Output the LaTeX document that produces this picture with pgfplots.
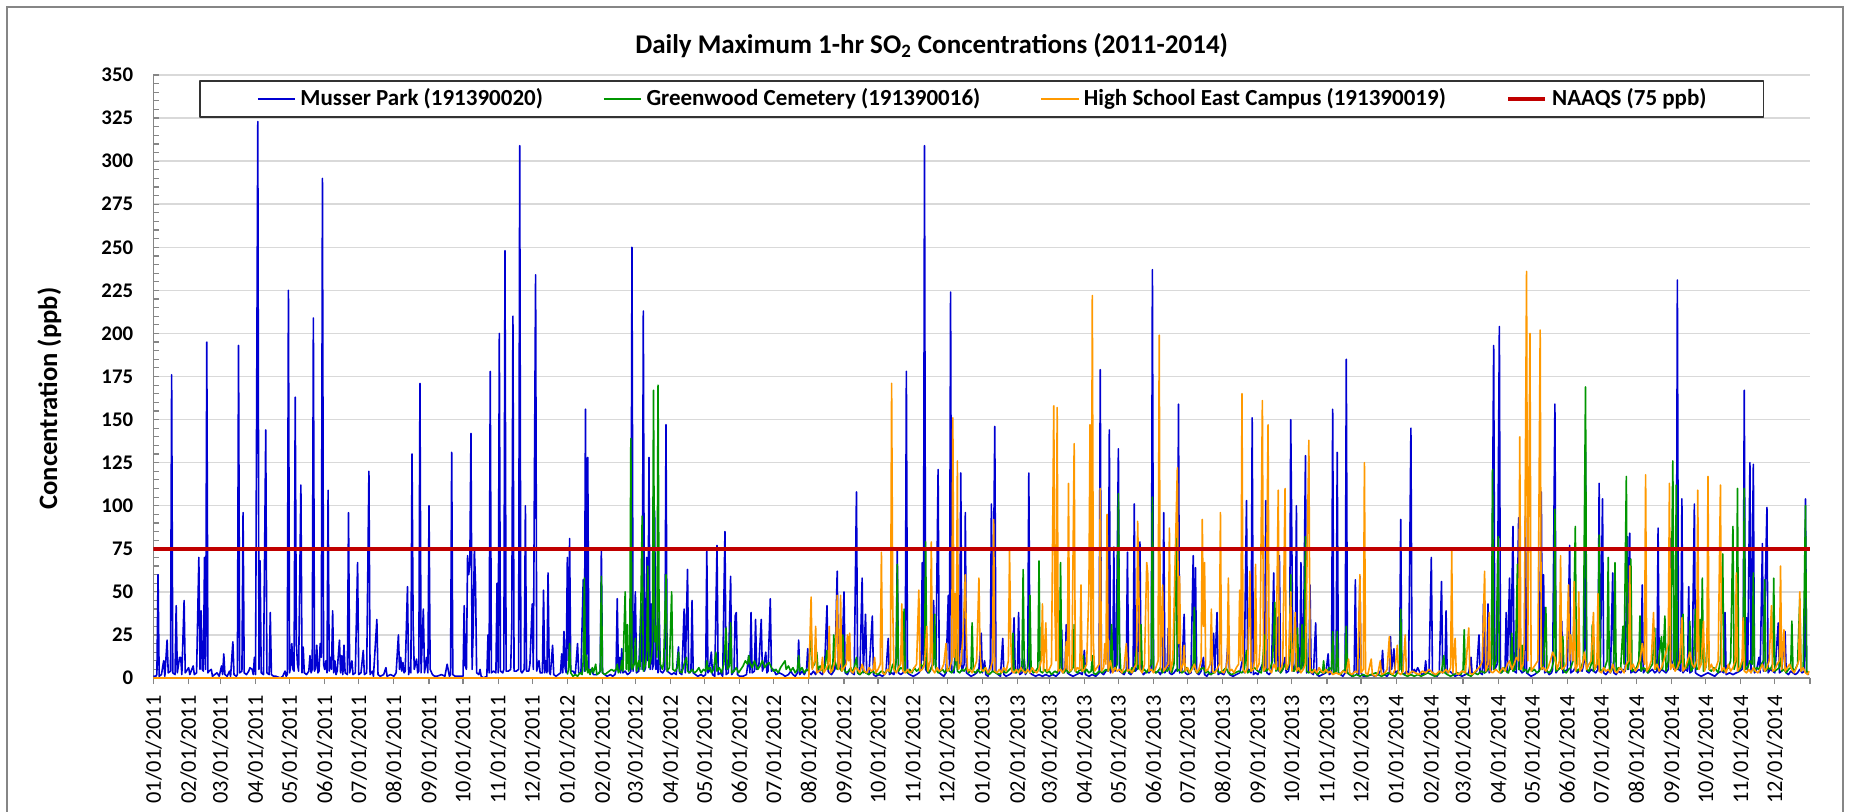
\documentclass[border=0pt]{standalone}
\usepackage{fontspec}
\setmainfont{Carlito}
\usepackage{pgfplots}
\pgfplotsset{compat=1.18}
\definecolor{mblue}{RGB}{0,0,210}
\definecolor{mgreen}{RGB}{0,150,0}
\definecolor{morange}{RGB}{255,153,0}
\definecolor{mred}{RGB}{192,0,0}
\definecolor{gridgray}{RGB}{217,217,217}
\definecolor{axgray}{RGB}{134,134,134}
\begin{document}
\begin{tikzpicture}
\path[use as bounding box] (0,0) rectangle (925.5pt,405.5pt);
\draw[axgray, line width=1pt] (3.35pt,-10pt) rectangle (921.5pt,402.15pt);
\node[font=\bfseries\fontsize{13.5}{16}\selectfont, anchor=base, inner sep=0pt] at (465.85pt,378.85pt) {Daily Maximum 1-hr SO\textsubscript{2} Concentrations (2011-2014)};
\begin{axis}[
  at={(76.75pt,66.5pt)}, anchor=south west,
  scale only axis, width=828.25pt, height=301.5pt,
  xmin=0, xmax=1461, ymin=0, ymax=350,
  axis lines*=left,
  axis line style={axgray, line width=0.75pt, -},
  tick align=inside,
  major tick length=3pt, minor tick length=3pt,
  tick style={axgray, line width=0.6pt},
  xtick style={yshift=-3pt},
  ytick={0,25,...,350}, minor y tick num=4,
  ymajorgrids, major grid style={gridgray, line width=0.75pt},
  /pgf/number format/assume math mode=true,
  yticklabel style={font=\bfseries\fontsize{10.4}{12}\selectfont, inner sep=0pt, xshift=-10pt},
  xtick={0,31,59,90,120,151,181,212,243,273,304,334,365,396,425,456,486,517,547,578,609,639,670,700,731,762,790,821,851,882,912,943,974,1004,1035,1065,1096,1127,1155,1186,1216,1247,1277,1308,1339,1369,1400,1430,1461},
  xticklabels={01/01/2011,02/01/2011,03/01/2011,04/01/2011,05/01/2011,06/01/2011,07/01/2011,08/01/2011,09/01/2011,10/01/2011,11/01/2011,12/01/2011,01/01/2012,02/01/2012,03/01/2012,04/01/2012,05/01/2012,06/01/2012,07/01/2012,08/01/2012,09/01/2012,10/01/2012,11/01/2012,12/01/2012,01/01/2013,02/01/2013,03/01/2013,04/01/2013,05/01/2013,06/01/2013,07/01/2013,08/01/2013,09/01/2013,10/01/2013,11/01/2013,12/01/2013,01/01/2014,02/01/2014,03/01/2014,04/01/2014,05/01/2014,06/01/2014,07/01/2014,08/01/2014,09/01/2014,10/01/2014,11/01/2014,12/01/2014,{}},
  xticklabel style={font=\fontsize{11.2}{13}\selectfont, inner sep=0pt, yshift=-8.5pt, rotate=90, anchor=east},
  ylabel={Concentration (ppb)},
  every axis y label/.style={at={(rel axis cs:-0.0628,0.4635)}, rotate=90, anchor=center, font=\bfseries\fontsize{13.3}{16}\selectfont},
  legend style={at={(0.5,1)}, anchor=north, yshift=-2.5pt, draw=black!80, line width=0.9pt, fill=white,
    font=\bfseries\fontsize{11.5}{13}\selectfont, legend columns=4, inner xsep=28.5pt, inner ysep=4pt,
    nodes={inner xsep=0pt, inner ysep=0pt},
    /tikz/every odd column/.append style={column sep=2.25pt},
    /tikz/every even column/.append style={column sep=30pt}},
  legend cell align=left,
  legend image code/.code={\draw[#1] (0pt,0pt) -- (18.7pt,0pt);},
  line join=round,
]
\addplot[mblue, line width=0.8pt] coordinates {(0,1)(2,1)(3,2)(4,60)(5,1)(7,2)(9,10)(10,1)(12,22)(13,3)(15,4)(16,176)(17,3)(19,2)(20,42)(21,3)(23,12)(24,12)(25,2)(27,45)(28,3)(29,4)(31,6)(32,2)(35,7)(36,2)(38,3)(40,70)(41,5)(42,39)(43,5)(44,4)(45,70)(46,5)(47,195)(48,3)(49,4)(51,5)(52,1)(54,2)(56,3)(58,1)(60,7)(61,2)(62,14)(63,2)(65,1)(67,4)(68,1)(70,21)(71,2)(73,1)(74,2)(75,193)(76,3)(78,4)(79,96)(80,3)(82,2)(84,4)(85,6)(87,5)(88,2)(89,12)(90,2)(92,323)(93,5)(94,68)(95,3)(97,2)(99,144)(100,3)(102,2)(103,38)(104,2)(106,1)(108,1)(112,0)(114,1)(116,4)(117,1)(118,2)(119,225)(120,3)(121,7)(122,20)(123,5)(124,4)(125,163)(126,20)(127,8)(128,4)(130,112)(131,3)(132,18)(133,3)(135,2)(137,4)(138,13)(139,3)(140,5)(141,209)(142,4)(143,6)(144,19)(145,3)(146,4)(147,20)(148,12)(149,290)(150,8)(151,5)(152,10)(153,3)(154,109)(155,4)(156,12)(157,5)(158,39)(159,3)(160,10)(161,2)(162,4)(164,22)(165,3)(166,13)(167,2)(168,19)(169,3)(171,2)(172,96)(173,3)(175,10)(176,2)(178,3)(180,67)(181,2)(183,3)(185,16)(186,2)(188,3)(190,120)(191,2)(193,4)(194,1)(197,34)(198,2)(200,1)(203,2)(205,6)(206,1)(209,2)(212,1)(214,3)(216,25)(217,5)(218,12)(219,4)(220,9)(221,3)(222,4)(224,53)(225,2)(226,6)(227,3)(228,130)(229,31)(230,5)(232,11)(233,3)(234,4)(235,171)(236,3)(238,40)(239,3)(241,12)(242,3)(243,100)(244,5)(246,2)(248,1)(250,1)(254,2)(257,1)(259,8)(261,1)(262,2)(263,131)(264,2)(266,1)(270,1)(273,1)(274,42)(275,7)(276,5)(277,71)(278,60)(279,66)(280,142)(281,5)(282,29)(283,75)(284,55)(285,3)(287,2)(288,5)(289,1)(291,0)(294,1)(295,25)(296,3)(297,178)(298,3)(300,4)(302,3)(303,55)(304,3)(305,200)(306,4)(308,3)(309,5)(310,248)(311,4)(313,4)(315,5)(316,30)(317,210)(318,4)(320,4)(322,5)(323,309)(324,4)(325,3)(327,5)(328,100)(329,4)(331,4)(332,8)(334,43)(335,5)(337,234)(338,4)(340,10)(341,3)(343,3)(344,51)(345,3)(346,10)(347,3)(348,61)(349,4)(350,2)(352,19)(353,2)(355,1)(357,2)(359,3)(360,14)(361,3)(362,27)(363,6)(364,3)(365,70)(366,10)(367,81)(368,4)(370,4)(372,2)(374,20)(375,3)(377,3)(379,57)(380,4)(381,156)(382,5)(383,128)(384,4)(386,5)(388,2)(391,2)(393,3)(394,4)(395,75)(396,3)(398,2)(400,1)(403,2)(405,1)(407,2)(408,5)(409,46)(410,4)(411,12)(412,3)(413,17)(414,3)(416,4)(418,2)(420,3)(421,4)(422,250)(423,4)(425,50)(426,3)(428,4)(430,43)(431,5)(432,213)(433,4)(434,6)(435,70)(436,10)(437,128)(438,5)(439,43)(440,5)(441,8)(442,97)(443,5)(444,10)(445,3)(446,39)(447,4)(449,3)(451,5)(452,147)(453,4)(455,3)(457,2)(459,3)(461,2)(463,18)(464,3)(466,2)(468,40)(469,3)(471,63)(472,3)(474,4)(475,45)(476,3)(478,2)(480,1)(483,2)(485,1)(487,2)(488,74)(489,3)(490,4)(492,15)(493,2)(495,1)(497,77)(498,2)(500,3)(502,1)(504,85)(505,2)(507,3)(509,59)(510,2)(512,4)(513,36)(514,38)(515,2)(517,1)(520,1)(523,2)(525,13)(526,3)(527,38)(528,3)(530,4)(531,34)(532,5)(534,8)(536,34)(537,4)(538,6)(540,15)(541,3)(542,4)(544,46)(545,4)(547,5)(549,2)(552,3)(555,2)(557,1)(560,2)(562,4)(564,2)(566,1)(568,3)(569,22)(570,2)(572,4)(574,2)(576,5)(577,17)(578,3)(580,2)(582,4)(584,2)(586,6)(588,3)(590,2)(592,8)(594,42)(595,4)(596,3)(598,2)(600,4)(601,5)(603,62)(604,5)(606,8)(607,4)(609,50)(610,3)(612,2)(614,5)(616,3)(618,2)(620,108)(621,3)(623,2)(625,58)(626,3)(628,37)(629,3)(631,2)(634,36)(635,2)(637,1)(640,2)(643,1)(646,3)(648,23)(649,2)(651,3)(653,2)(655,10)(656,75)(657,3)(659,2)(661,3)(663,4)(664,178)(665,3)(667,2)(670,1)(673,2)(675,3)(677,5)(678,67)(679,10)(680,309)(681,5)(683,3)(685,4)(687,8)(688,45)(689,20)(690,5)(692,121)(693,3)(695,2)(697,1)(699,3)(701,48)(702,5)(703,224)(704,4)(706,3)(708,30)(709,5)(711,10)(712,119)(713,4)(715,8)(716,96)(717,3)(719,2)(721,1)(724,2)(726,3)(728,5)(730,26)(731,3)(733,10)(734,2)(736,1)(738,8)(739,101)(740,4)(742,146)(743,3)(745,2)(747,1)(749,23)(750,2)(752,1)(755,2)(757,3)(759,35)(760,3)(762,5)(763,38)(764,2)(766,3)(768,11)(769,2)(771,5)(772,119)(773,3)(775,2)(778,1)(781,2)(784,1)(787,2)(790,1)(793,2)(796,1)(799,3)(801,28)(802,3)(804,5)(805,31)(806,3)(808,2)(811,1)(814,2)(817,3)(819,2)(821,16)(822,2)(825,1)(828,2)(831,1)(834,3)(835,179)(836,3)(838,2)(840,4)(842,5)(843,144)(844,3)(846,6)(847,76)(848,4)(849,5)(851,133)(852,4)(854,3)(856,2)(858,5)(859,73)(860,3)(862,2)(864,4)(865,101)(866,4)(868,6)(870,79)(871,5)(873,2)(876,4)(878,3)(880,5)(881,237)(882,4)(884,3)(886,4)(888,2)(890,5)(891,96)(892,3)(894,6)(895,29)(896,3)(898,2)(900,3)(902,5)(903,4)(904,159)(905,3)(907,4)(909,37)(910,3)(912,2)(915,3)(917,71)(918,5)(919,64)(920,3)(922,2)(924,4)(926,12)(927,2)(929,1)(931,3)(933,2)(935,26)(936,3)(938,38)(939,2)(941,3)(944,2)(946,5)(948,24)(949,2)(952,1)(955,2)(958,3)(961,12)(962,3)(964,103)(965,4)(966,5)(968,3)(969,151)(970,2)(972,3)(974,2)(976,5)(978,8)(980,4)(981,103)(982,3)(984,2)(986,4)(988,61)(989,10)(990,5)(991,35)(992,4)(993,71)(994,3)(996,5)(998,12)(999,3)(1001,4)(1002,8)(1003,150)(1004,77)(1005,4)(1007,5)(1008,100)(1009,3)(1011,4)(1012,67)(1013,20)(1014,5)(1016,129)(1017,3)(1019,4)(1020,54)(1021,3)(1023,2)(1025,32)(1026,2)(1028,1)(1031,2)(1034,3)(1036,14)(1037,2)(1039,3)(1040,156)(1041,3)(1043,4)(1044,131)(1045,3)(1047,2)(1049,1)(1051,3)(1052,185)(1053,3)(1055,2)(1057,1)(1059,4)(1060,57)(1061,3)(1063,2)(1064,59)(1065,3)(1067,1)(1070,1)(1074,2)(1077,1)(1080,2)(1083,5)(1084,16)(1085,2)(1088,1)(1090,3)(1091,24)(1092,5)(1094,17)(1095,3)(1097,4)(1099,5)(1100,92)(1101,3)(1103,2)(1105,4)(1107,3)(1109,145)(1110,3)(1112,5)(1113,3)(1115,6)(1117,3)(1119,2)(1121,3)(1122,10)(1123,3)(1125,4)(1127,70)(1128,3)(1130,2)(1132,1)(1134,3)(1136,56)(1137,3)(1139,4)(1140,39)(1141,3)(1143,4)(1145,3)(1148,1)(1151,2)(1154,1)(1157,2)(1160,3)(1162,12)(1163,2)(1165,3)(1167,4)(1169,25)(1170,3)(1172,2)(1173,43)(1174,3)(1176,4)(1177,43)(1178,3)(1180,5)(1182,193)(1183,5)(1185,8)(1187,204)(1188,3)(1190,4)(1192,5)(1193,38)(1194,3)(1196,58)(1197,5)(1199,88)(1200,4)(1202,3)(1204,93)(1205,5)(1207,3)(1209,4)(1210,94)(1211,3)(1213,2)(1215,1)(1218,2)(1220,3)(1222,4)(1224,108)(1225,5)(1226,60)(1227,3)(1229,4)(1231,2)(1233,3)(1234,5)(1236,159)(1237,3)(1239,5)(1241,6)(1242,33)(1243,3)(1245,4)(1247,5)(1249,77)(1250,3)(1252,4)(1254,6)(1256,3)(1258,5)(1260,4)(1262,10)(1263,131)(1264,4)(1266,3)(1268,5)(1270,4)(1272,3)(1274,5)(1275,113)(1276,4)(1278,104)(1279,3)(1281,2)(1283,4)(1285,3)(1287,61)(1288,3)(1290,2)(1292,4)(1294,3)(1296,5)(1298,4)(1300,82)(1301,5)(1302,84)(1303,3)(1305,4)(1307,3)(1310,5)(1312,4)(1313,54)(1314,3)(1316,5)(1318,3)(1320,4)(1322,5)(1324,3)(1326,4)(1327,87)(1328,3)(1330,5)(1332,4)(1334,3)(1336,5)(1338,81)(1339,10)(1341,5)(1343,6)(1344,231)(1345,5)(1347,4)(1348,104)(1349,3)(1351,5)(1353,4)(1354,53)(1355,3)(1357,4)(1359,101)(1360,3)(1362,2)(1365,1)(1368,2)(1371,3)(1374,2)(1377,1)(1380,3)(1383,4)(1385,3)(1386,38)(1387,2)(1390,3)(1393,2)(1396,3)(1399,4)(1401,5)(1402,12)(1403,167)(1404,5)(1405,35)(1406,4)(1408,125)(1409,3)(1411,124)(1412,3)(1414,5)(1416,12)(1417,3)(1419,78)(1420,4)(1423,99)(1424,3)(1426,5)(1428,4)(1430,3)(1433,32)(1434,3)(1436,4)(1439,27)(1440,3)(1442,2)(1444,4)(1446,3)(1448,2)(1450,3)(1452,5)(1454,3)(1456,4)(1457,104)(1458,3)(1460,2)};
\addlegendentry{Musser Park (191390020)}
\addplot[mgreen, line width=0.8pt] coordinates {(365,2)(366,5)(367,20)(368,3)(370,1)(372,2)(374,1)(376,3)(378,2)(379,10)(380,58)(381,4)(382,13)(383,3)(384,5)(385,2)(387,6)(388,3)(390,8)(391,2)(393,3)(394,4)(395,59)(396,3)(398,2)(400,3)(402,4)(404,5)(406,4)(408,5)(409,8)(410,3)(412,5)(413,10)(414,4)(416,50)(417,5)(418,31)(419,4)(420,6)(421,139)(422,5)(424,8)(425,23)(426,4)(428,10)(429,5)(431,94)(432,4)(434,8)(435,15)(436,65)(437,6)(439,12)(440,18)(441,167)(442,21)(443,30)(444,12)(445,170)(446,20)(447,8)(449,5)(450,10)(452,60)(453,4)(455,6)(457,50)(458,5)(460,4)(462,6)(463,15)(464,4)(466,3)(468,8)(470,12)(471,4)(473,3)(475,5)(477,3)(479,4)(481,6)(483,3)(485,5)(487,4)(488,10)(489,5)(491,6)(492,3)(494,5)(496,15)(497,4)(499,6)(501,3)(503,8)(505,29)(506,5)(508,7)(509,32)(510,3)(512,4)(514,6)(516,3)(518,5)(520,7)(522,10)(524,8)(525,13)(526,9)(528,6)(530,10)(531,8)(533,5)(535,7)(537,10)(539,6)(541,8)(543,9)(545,6)(547,4)(549,5)(551,3)(553,6)(555,8)(557,10)(558,5)(560,7)(562,4)(564,6)(566,3)(568,5)(569,13)(570,4)(572,6)(574,3)(576,5)(578,4)(580,29)(581,6)(583,8)(585,15)(586,5)(588,7)(590,4)(592,6)(594,16)(595,5)(597,8)(599,4)(600,25)(601,10)(603,5)(605,6)(607,4)(608,25)(609,5)(611,3)(613,4)(615,6)(617,3)(620,12)(621,3)(623,2)(626,4)(628,3)(631,2)(634,4)(636,3)(639,2)(642,4)(645,3)(648,5)(650,3)(652,8)(654,4)(655,10)(656,66)(657,4)(659,6)(661,5)(662,40)(663,4)(665,3)(667,5)(669,3)(671,6)(673,4)(675,5)(677,8)(679,6)(680,10)(681,79)(682,5)(684,3)(686,6)(688,8)(689,37)(690,5)(692,3)(694,4)(696,5)(698,3)(700,6)(702,4)(704,3)(706,5)(707,8)(708,29)(709,4)(711,3)(713,5)(715,4)(717,6)(719,3)(721,5)(722,32)(723,4)(725,3)(727,5)(729,3)(731,4)(733,6)(735,3)(737,2)(740,4)(743,3)(746,2)(749,4)(752,3)(755,5)(757,6)(758,26)(759,4)(761,3)(763,5)(765,4)(766,8)(767,63)(768,4)(770,3)(772,10)(773,48)(774,5)(776,3)(778,4)(780,6)(781,68)(782,4)(784,3)(786,5)(788,3)(790,4)(792,2)(795,4)(797,3)(799,6)(800,67)(801,4)(803,3)(805,5)(807,3)(809,4)(811,6)(812,31)(813,4)(815,3)(817,5)(819,4)(820,13)(821,3)(823,5)(825,3)(827,4)(828,13)(829,3)(831,2)(834,4)(837,3)(840,5)(842,4)(844,6)(845,31)(846,4)(848,5)(850,8)(851,107)(852,20)(853,5)(855,3)(857,4)(859,5)(861,3)(863,6)(865,4)(867,17)(868,5)(870,8)(871,31)(872,4)(874,5)(876,3)(878,6)(880,8)(881,105)(882,5)(884,3)(886,4)(888,6)(890,3)(892,5)(894,4)(896,6)(898,3)(900,8)(902,84)(903,4)(905,5)(907,3)(909,4)(911,6)(913,3)(915,5)(917,8)(918,41)(919,4)(921,3)(923,5)(926,6)(928,3)(930,4)(932,2)(935,3)(938,5)(940,3)(943,4)(946,6)(948,3)(951,2)(954,3)(957,4)(960,3)(962,5)(964,16)(965,3)(967,4)(969,5)(971,6)(974,4)(977,3)(978,8)(980,25)(981,4)(983,5)(985,6)(987,10)(989,44)(990,4)(992,6)(994,3)(996,5)(998,8)(1000,5)(1002,10)(1003,60)(1004,5)(1006,4)(1008,10)(1009,29)(1010,4)(1012,5)(1013,31)(1014,6)(1015,10)(1016,82)(1017,4)(1019,3)(1021,5)(1023,4)(1025,3)(1027,2)(1029,4)(1031,3)(1032,10)(1033,3)(1035,4)(1037,6)(1039,5)(1040,27)(1041,3)(1043,4)(1044,27)(1045,3)(1047,2)(1049,4)(1051,5)(1052,30)(1053,3)(1055,2)(1058,1)(1061,2)(1064,1)(1067,2)(1070,1)(1074,2)(1078,3)(1080,2)(1083,1)(1086,2)(1089,3)(1092,2)(1095,1)(1097,3)(1099,5)(1100,40)(1101,3)(1103,2)(1106,1)(1109,2)(1112,1)(1115,2)(1118,1)(1121,2)(1124,3)(1127,2)(1130,1)(1133,2)(1136,4)(1138,13)(1139,3)(1141,2)(1144,1)(1147,2)(1150,3)(1153,2)(1155,5)(1156,28)(1157,3)(1159,2)(1162,1)(1165,3)(1168,2)(1171,4)(1174,3)(1177,5)(1179,6)(1180,8)(1181,121)(1182,5)(1184,10)(1186,82)(1187,5)(1189,3)(1191,6)(1193,4)(1195,3)(1197,8)(1198,26)(1199,4)(1201,5)(1203,66)(1204,5)(1206,6)(1207,19)(1208,4)(1210,5)(1212,3)(1214,6)(1216,4)(1218,5)(1220,3)(1222,4)(1224,6)(1226,8)(1228,41)(1229,4)(1231,3)(1233,5)(1235,10)(1236,98)(1237,4)(1239,5)(1241,6)(1243,24)(1244,4)(1246,3)(1248,5)(1250,6)(1252,10)(1254,88)(1255,4)(1257,5)(1259,6)(1261,10)(1263,169)(1264,5)(1266,4)(1268,8)(1269,31)(1270,4)(1272,6)(1274,10)(1275,83)(1276,5)(1278,4)(1280,6)(1282,10)(1283,70)(1284,5)(1286,4)(1288,10)(1289,67)(1290,4)(1292,6)(1294,5)(1296,30)(1297,8)(1299,117)(1300,5)(1302,10)(1303,69)(1304,4)(1306,5)(1308,6)(1310,10)(1311,36)(1312,4)(1314,6)(1316,5)(1318,3)(1320,6)(1322,8)(1324,29)(1325,5)(1327,8)(1330,24)(1331,5)(1333,36)(1334,4)(1336,10)(1337,53)(1338,8)(1340,126)(1341,10)(1342,6)(1343,112)(1344,5)(1346,8)(1348,10)(1349,37)(1350,5)(1352,6)(1354,8)(1355,33)(1356,4)(1358,6)(1360,40)(1361,5)(1363,6)(1364,34)(1365,8)(1366,58)(1367,4)(1369,6)(1371,30)(1372,5)(1374,4)(1376,6)(1378,5)(1380,3)(1382,10)(1384,72)(1385,4)(1387,5)(1389,6)(1391,10)(1393,88)(1394,5)(1396,10)(1397,110)(1398,4)(1400,6)(1402,10)(1403,110)(1404,5)(1406,6)(1408,10)(1410,8)(1411,61)(1412,4)(1414,6)(1416,5)(1418,8)(1420,10)(1421,57)(1422,4)(1424,6)(1426,5)(1428,8)(1429,58)(1430,4)(1432,5)(1434,6)(1435,27)(1436,4)(1438,5)(1440,3)(1442,5)(1444,6)(1445,33)(1446,4)(1448,5)(1450,8)(1452,46)(1453,4)(1455,6)(1457,100)(1458,4)(1460,3)};
\addlegendentry{Greenwood Cemetery (191390016)}
\addplot[morange, line width=0.8pt] coordinates {(0,0)(578,0)(580,47)(581,5)(583,10)(584,30)(585,3)(587,4)(589,5)(590,12)(591,3)(593,5)(595,8)(596,30)(597,3)(599,5)(601,10)(602,25)(603,48)(604,5)(605,8)(606,48)(607,4)(609,6)(611,8)(612,25)(613,10)(614,26)(615,4)(617,3)(619,6)(621,5)(623,3)(625,8)(627,4)(629,3)(631,6)(633,4)(635,5)(636,12)(637,3)(639,5)(641,8)(642,73)(643,3)(645,2)(647,5)(649,4)(650,10)(651,171)(652,41)(653,5)(655,3)(657,6)(659,8)(660,43)(661,4)(663,3)(665,5)(667,3)(669,4)(671,6)(673,8)(675,51)(676,4)(678,5)(680,8)(682,30)(683,4)(685,10)(686,79)(687,5)(689,3)(691,6)(693,4)(695,5)(697,8)(699,20)(700,4)(702,5)(704,10)(705,151)(706,12)(707,49)(708,10)(709,126)(710,5)(712,8)(714,25)(716,60)(717,20)(718,4)(720,5)(722,3)(724,6)(726,10)(728,58)(729,15)(730,5)(732,4)(734,6)(736,3)(738,5)(740,10)(741,92)(742,4)(744,3)(746,5)(748,3)(750,6)(752,4)(754,10)(755,74)(756,25)(757,4)(759,3)(761,5)(763,3)(765,6)(767,4)(769,3)(771,5)(773,3)(775,6)(777,4)(779,3)(781,5)(783,10)(784,43)(785,4)(787,32)(788,4)(790,5)(792,8)(794,158)(795,40)(796,10)(797,157)(798,4)(800,5)(802,3)(804,6)(805,21)(806,5)(807,113)(808,4)(810,5)(812,136)(813,4)(815,6)(817,5)(818,54)(819,4)(821,5)(823,8)(825,51)(826,147)(827,10)(828,222)(829,20)(830,4)(832,6)(834,8)(835,110)(836,4)(838,6)(839,20)(840,8)(841,95)(842,4)(844,10)(846,3)(848,6)(850,4)(852,5)(854,3)(856,6)(858,20)(859,4)(861,5)(863,3)(865,6)(867,8)(868,91)(869,53)(870,5)(872,3)(874,8)(876,67)(877,60)(878,4)(880,5)(882,3)(884,6)(886,10)(887,199)(888,5)(890,54)(891,4)(893,6)(895,8)(896,87)(897,4)(899,10)(901,66)(903,122)(904,20)(905,59)(906,4)(908,8)(909,19)(910,4)(912,6)(914,3)(916,5)(918,8)(920,3)(922,5)(924,10)(925,92)(926,30)(927,67)(928,4)(930,5)(932,8)(933,40)(934,4)(936,3)(938,5)(940,8)(941,96)(942,4)(944,3)(946,6)(947,10)(948,58)(949,4)(951,5)(953,3)(955,6)(957,8)(958,51)(959,10)(960,165)(961,5)(963,3)(965,6)(967,62)(968,4)(970,5)(971,10)(972,66)(973,5)(975,8)(976,20)(978,161)(979,4)(981,6)(983,147)(984,5)(986,3)(988,8)(990,5)(992,109)(993,4)(995,6)(996,10)(998,110)(999,5)(1001,8)(1003,50)(1004,4)(1005,10)(1007,38)(1008,4)(1010,6)(1012,3)(1014,5)(1016,8)(1019,138)(1020,4)(1022,3)(1024,5)(1026,3)(1028,6)(1030,4)(1032,3)(1034,5)(1036,3)(1038,4)(1040,2)(1043,3)(1046,2)(1049,4)(1052,3)(1054,11)(1055,3)(1057,2)(1060,4)(1062,3)(1064,60)(1065,3)(1067,5)(1068,125)(1069,3)(1071,2)(1074,11)(1075,2)(1078,1)(1080,3)(1082,10)(1083,2)(1086,3)(1088,5)(1090,24)(1091,3)(1093,2)(1095,5)(1097,19)(1098,3)(1100,2)(1102,4)(1104,25)(1105,3)(1107,2)(1110,4)(1113,3)(1116,2)(1119,4)(1122,3)(1125,5)(1128,3)(1131,2)(1134,4)(1137,3)(1140,5)(1142,3)(1144,6)(1145,74)(1146,3)(1148,23)(1149,3)(1151,2)(1154,4)(1157,3)(1160,29)(1161,3)(1163,2)(1166,4)(1169,6)(1171,8)(1172,10)(1174,62)(1175,4)(1177,8)(1178,38)(1179,4)(1181,3)(1184,5)(1187,3)(1190,6)(1192,4)(1194,8)(1196,10)(1198,5)(1200,8)(1202,12)(1204,10)(1205,140)(1206,5)(1208,8)(1209,20)(1211,236)(1212,10)(1214,200)(1215,4)(1217,6)(1219,8)(1221,10)(1223,202)(1224,5)(1226,6)(1228,4)(1230,6)(1232,10)(1234,15)(1236,12)(1238,5)(1240,10)(1241,71)(1242,5)(1244,6)(1246,8)(1248,54)(1249,10)(1250,25)(1252,10)(1253,56)(1254,4)(1256,8)(1257,50)(1258,4)(1260,6)(1262,15)(1264,5)(1266,8)(1268,10)(1270,38)(1271,5)(1273,8)(1274,49)(1275,4)(1277,3)(1279,6)(1281,4)(1283,5)(1285,3)(1287,8)(1289,4)(1291,3)(1293,6)(1295,5)(1297,3)(1299,8)(1301,10)(1302,65)(1303,5)(1305,8)(1307,4)(1309,6)(1311,10)(1313,20)(1315,8)(1316,118)(1317,4)(1319,6)(1321,10)(1323,38)(1324,5)(1326,8)(1328,4)(1330,6)(1332,10)(1334,15)(1336,20)(1337,113)(1338,5)(1340,8)(1342,4)(1344,6)(1346,10)(1348,35)(1349,4)(1351,6)(1353,10)(1355,15)(1357,8)(1359,6)(1361,10)(1362,109)(1363,5)(1365,8)(1367,33)(1368,4)(1370,10)(1371,117)(1372,5)(1374,8)(1376,4)(1378,6)(1380,10)(1382,112)(1383,4)(1385,6)(1387,3)(1389,8)(1391,4)(1393,6)(1395,10)(1396,61)(1397,4)(1399,6)(1401,10)(1402,35)(1403,4)(1405,3)(1407,5)(1409,3)(1411,6)(1413,4)(1415,3)(1417,5)(1419,8)(1421,4)(1423,6)(1425,10)(1427,42)(1428,4)(1430,5)(1432,8)(1434,10)(1435,65)(1436,5)(1438,28)(1439,4)(1441,6)(1443,8)(1445,5)(1447,3)(1449,6)(1451,10)(1452,50)(1453,4)(1455,6)(1457,3)(1459,2)(1460,4)};
\addlegendentry{High School East Campus (191390019)}
\addplot[mred, line width=2.2pt] coordinates {(0,75)(1461,75)};
\addlegendentry{NAAQS (75 ppb)}
\end{axis}
\end{tikzpicture}
\end{document}
